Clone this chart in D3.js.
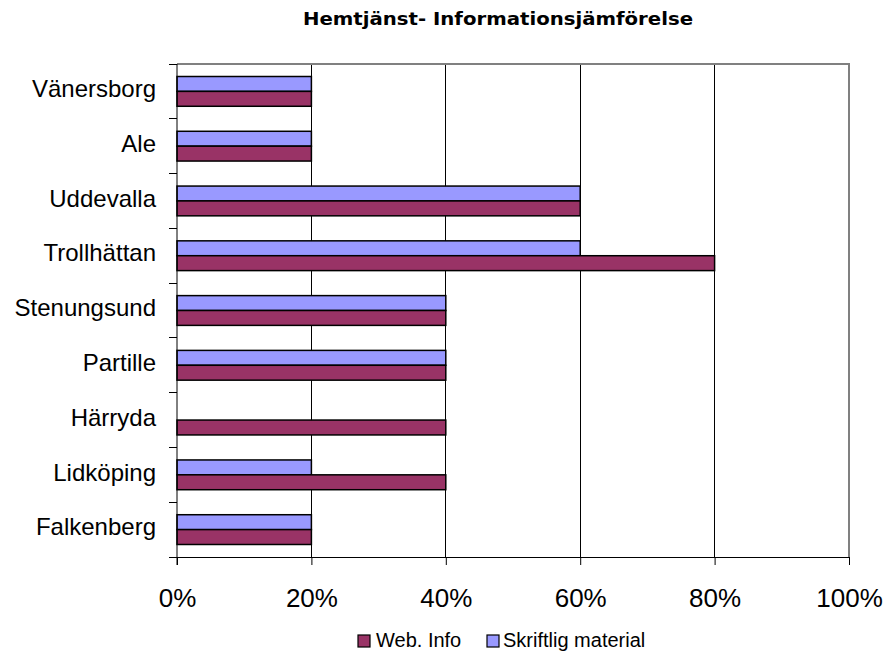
<!DOCTYPE html>
<html>
<head>
<meta charset="utf-8">
<script src="https://cdn.jsdelivr.net/npm/d3@7"></script>
<style>
  html, body { margin: 0; padding: 0; background: #fff; }
  svg { display: block; font-family: "Liberation Sans", Arial, sans-serif; }
</style>
</head>
<body>
<svg id="chart" width="889" height="652"></svg>
<script>
// Municipalities, top to bottom
const categories = ["Vänersborg", "Ale", "Uddevalla", "Trollhättan", "Stenungsund",
                    "Partille", "Härryda", "Lidköping", "Falkenberg"];
// Share of information available (fraction of 1)
const webInfo = [0.2, 0.2, 0.6, 0.8, 0.4, 0.4, 0.4, 0.4, 0.2];
const skriftligMaterial = [0.2, 0.2, 0.6, 0.6, 0.4, 0.4, 0, 0.2, 0.2];
const xTicks = [0, 0.2, 0.4, 0.6, 0.8, 1.0];
const seriesNames = ["Web. Info", "Skriftlig material"];
const titleText = "Hemtjänst- Informationsjämförelse";

const colors = { web: "#993366", skrift: "#9999FF" };

const svg = d3.select("#chart");
const plot = { left: 177, right: 849, top: 64, bottom: 557 };

const x = d3.scaleLinear().domain([0, 1]).range([plot.left, plot.right]);
const y = d3.scaleBand().domain(categories).range([plot.top, plot.bottom]).padding(0);
// two bars per category: Skriftlig on top, Web below
const sub = d3.scaleBand().domain(["skrift", "web"])
  .range([0, y.bandwidth()]).paddingOuter(0.84).paddingInner(0);

// Title
svg.append("text")
  .attr("x", 498).attr("y", 25)
  .attr("text-anchor", "middle")
  .attr("font-family", "DejaVu Sans, sans-serif")
  .attr("font-weight", "bold")
  .attr("font-size", 17)
  .attr("textLength", 390)
  .attr("lengthAdjust", "spacingAndGlyphs")
  .text(titleText);

// Vertical gridlines
svg.append("g").selectAll("line")
  .data(xTicks.filter(t => t > 0 && t < 1))
  .join("line")
  .attr("x1", d => x(d)).attr("x2", d => x(d))
  .attr("y1", plot.top).attr("y2", plot.bottom)
  .attr("stroke", "#000").attr("stroke-width", 1)
  .attr("shape-rendering", "crispEdges");

// Plot frame (top and right edges)
svg.append("path")
  .attr("d", `M${plot.left},${plot.top}H${plot.right}V${plot.bottom}`)
  .attr("fill", "none").attr("stroke", "#808080").attr("stroke-width", 2);

// Bars
const rows = categories.map((c, i) => ({ c, web: webInfo[i], skrift: skriftligMaterial[i] }));
const barData = [];
rows.forEach(r => {
  barData.push({ c: r.c, key: "skrift", v: r.skrift });
  barData.push({ c: r.c, key: "web", v: r.web });
});
svg.append("g").selectAll("rect")
  .data(barData.filter(d => d.v > 0))
  .join("rect")
  .attr("x", x(0))
  .attr("y", d => y(d.c) + sub(d.key))
  .attr("width", d => x(d.v) - x(0))
  .attr("height", sub.bandwidth())
  .attr("fill", d => colors[d.key])
  .attr("stroke", "#000").attr("stroke-width", 1.5);

// Bottom axis
const xAxis = d3.axisBottom(x).tickValues(xTicks)
  .tickFormat(d3.format(".0%")).tickSize(8).tickPadding(0);
const gx = svg.append("g").attr("transform", `translate(0,${plot.bottom})`).call(xAxis);
gx.select(".domain").attr("stroke", "#000");
gx.selectAll(".tick line").attr("stroke", "#000");
gx.selectAll(".tick text").attr("font-size", 26).attr("fill", "#000")
  .attr("font-family", "Liberation Sans, Arial, sans-serif")
  .attr("y", 50).attr("dy", null);

// Left axis: ticks at band boundaries
svg.append("line")
  .attr("x1", plot.left).attr("x2", plot.left)
  .attr("y1", plot.top).attr("y2", plot.bottom + 8)
  .attr("stroke", "#000");
const boundaries = categories.map(c => y(c)).concat([plot.bottom]);
svg.append("g").selectAll("line")
  .data(boundaries).join("line")
  .attr("x1", plot.left - 8).attr("x2", plot.left)
  .attr("y1", d => d).attr("y2", d => d)
  .attr("stroke", "#000").attr("shape-rendering", "crispEdges");
svg.append("g").selectAll("text")
  .data(categories).join("text")
  .attr("x", 156)
  .attr("y", d => y(d) + y.bandwidth() / 2)
  .attr("dy", "0.24em")
  .attr("text-anchor", "end")
  .attr("font-size", 24)
  .text(d => d);

// Legend
const legend = svg.append("g");
const legendItems = [
  { name: seriesNames[0], color: colors.web, sx: 358, tx: 376 },
  { name: seriesNames[1], color: colors.skrift, sx: 487, tx: 503 }
];
legendItems.forEach(it => {
  legend.append("rect")
    .attr("x", it.sx).attr("y", 635).attr("width", 12).attr("height", 12)
    .attr("fill", it.color).attr("stroke", "#000").attr("stroke-width", 1.2);
  legend.append("text")
    .attr("x", it.tx).attr("y", 647)
    .attr("font-size", 20)
    .text(it.name);
});
</script>
</body>
</html>
